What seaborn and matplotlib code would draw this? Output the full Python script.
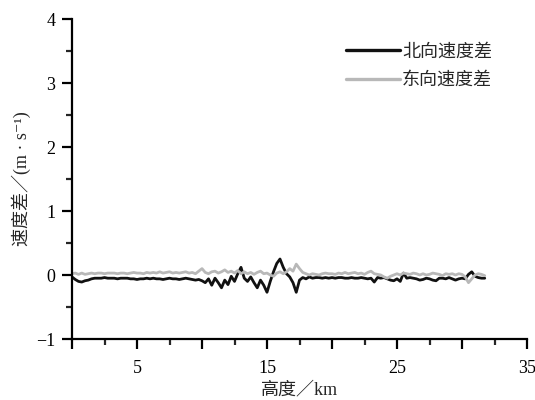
import numpy as np
import pandas as pd
import matplotlib
matplotlib.use("Agg")
import matplotlib.pyplot as plt
import seaborn as sns
from matplotlib.ticker import MultipleLocator

# ---- data ----
altitude_km = [i * 0.25 for i in range(128)]

north_diff = [
    -0.03, -0.07, -0.10, -0.11,
    -0.09, -0.08, -0.06, -0.05,
    -0.05, -0.05, -0.04, -0.05,
    -0.05, -0.05, -0.06, -0.05,
    -0.05, -0.05, -0.06, -0.06,
    -0.07, -0.06, -0.06, -0.05,
    -0.06, -0.05, -0.06, -0.06,
    -0.07, -0.06, -0.05, -0.06,
    -0.06, -0.07, -0.06, -0.05,
    -0.06, -0.07, -0.08, -0.07,
    -0.09, -0.12, -0.06, -0.16,
    -0.05, -0.12, -0.20, -0.08,
    -0.15, -0.02, -0.10, 0.02,
    0.12, -0.05, -0.10, -0.03,
    -0.12, -0.20, -0.08, -0.16,
    -0.27, -0.10, 0.05, 0.18,
    0.25, 0.12, 0.02, -0.03,
    -0.12, -0.27, -0.08, -0.04,
    -0.06, -0.03, -0.05, -0.04,
    -0.04, -0.05, -0.04, -0.05,
    -0.04, -0.05, -0.04, -0.04,
    -0.05, -0.05, -0.04, -0.05,
    -0.05, -0.04, -0.05, -0.06,
    -0.05, -0.11, -0.04, -0.05,
    -0.04, -0.06, -0.08, -0.09,
    -0.06, -0.10, 0.03, -0.05,
    -0.04, -0.05, -0.06, -0.08,
    -0.07, -0.05, -0.06, -0.08,
    -0.09, -0.05, -0.05, -0.06,
    -0.04, -0.06, -0.08, -0.06,
    -0.05, -0.06, 0.01, 0.05,
    -0.02, -0.04, -0.05, -0.05,
]

east_diff = [
    0.02, 0.03, 0.01, 0.03,
    0.01, 0.02, 0.03, 0.02,
    0.03, 0.03, 0.02, 0.03,
    0.03, 0.03, 0.02, 0.03,
    0.03, 0.02, 0.03, 0.04,
    0.03, 0.03, 0.02, 0.04,
    0.03, 0.04, 0.03, 0.05,
    0.03, 0.04, 0.05, 0.03,
    0.04, 0.03, 0.04, 0.05,
    0.03, 0.04, 0.02, 0.06,
    0.10, 0.04, 0.02, 0.05,
    0.06, 0.03, 0.05, 0.08,
    0.04, 0.06, 0.03, 0.07,
    0.02, 0.05, 0.02, 0.04,
    0.01, 0.04, 0.06, 0.02,
    0.03, 0.00, -0.02, 0.03,
    0.05, 0.02, 0.05, 0.10,
    0.06, 0.17, 0.10, 0.04,
    0.02, 0.00, 0.02, 0.01,
    0.00, 0.02, 0.03, 0.02,
    0.02, 0.01, 0.03, 0.02,
    0.04, 0.02, 0.03, 0.04,
    0.02, 0.03, 0.01, 0.04,
    0.06, 0.02, 0.01, 0.00,
    -0.03, -0.05, -0.02, 0.00,
    0.02, 0.00, 0.03, 0.02,
    0.01, 0.03, 0.02, 0.00,
    0.02, 0.00, 0.01, 0.03,
    0.02, 0.01, -0.01, 0.02,
    0.01, 0.02, 0.00, 0.02,
    0.01, -0.03, -0.12, -0.06,
    0.00, 0.02, 0.01, -0.01,
]

series_names = ["北向速度差", "东向速度差"]
x_ticklabels = {5: "5", 15: "15", 25: "25", 35: "35"}

# ---- plot ----
sns.set_style("ticks")
plt.rcParams["font.family"] = ["Liberation Serif", "Noto Sans CJK SC", "DejaVu Sans"]
plt.rcParams["axes.unicode_minus"] = True

df = pd.concat([
    pd.DataFrame({"alt": altitude_km, "val": north_diff, "kind": series_names[0]}),
    pd.DataFrame({"alt": altitude_km, "val": east_diff, "kind": series_names[1]}),
])

fig = plt.figure(figsize=(5.35, 4.0), dpi=100)
ax = fig.add_axes([72 / 535, 1 - 339 / 400, 455 / 535, 320 / 400])

sns.lineplot(data=df, x="alt", y="val", hue="kind", hue_order=series_names,
             palette={series_names[0]: "#111111", series_names[1]: "#b8b8b8"},
             linewidth=2.0, ax=ax, legend=True, sort=False)

ax.set_xlim(0, 35)
ax.set_ylim(-1, 4)
ax.xaxis.set_major_locator(MultipleLocator(5))
ax.xaxis.set_minor_locator(MultipleLocator(2.5))
ax.set_xticklabels([x_ticklabels.get(int(round(t)), "") for t in ax.get_xticks()])
ax.yaxis.set_major_locator(MultipleLocator(1))
ax.yaxis.set_minor_locator(MultipleLocator(0.5))

for s in ["top", "right"]:
    ax.spines[s].set_visible(False)
for s in ["left", "bottom"]:
    ax.spines[s].set_linewidth(1.6)
    ax.spines[s].set_color("black")

ax.tick_params(axis="both", which="major", direction="out", length=7, width=1.6,
               labelsize=13, colors="black", pad=5)
ax.tick_params(axis="both", which="minor", direction="out", length=4, width=1.6)
ax.tick_params(axis="x", which="major", pad=8)

ax.set_xlabel("高度／km", fontsize=13, labelpad=3)
ax.set_ylabel("速度差／(m · s⁻¹)", fontsize=13, labelpad=4)

leg = ax.legend(loc="upper left", bbox_to_anchor=(0.567, 0.975), frameon=False,
                fontsize=13, handlelength=3.0, handletextpad=0.1, labelspacing=0.65)
for line in leg.get_lines():
    line.set_linewidth(2.4)

fig.savefig("out.png", dpi=100)
